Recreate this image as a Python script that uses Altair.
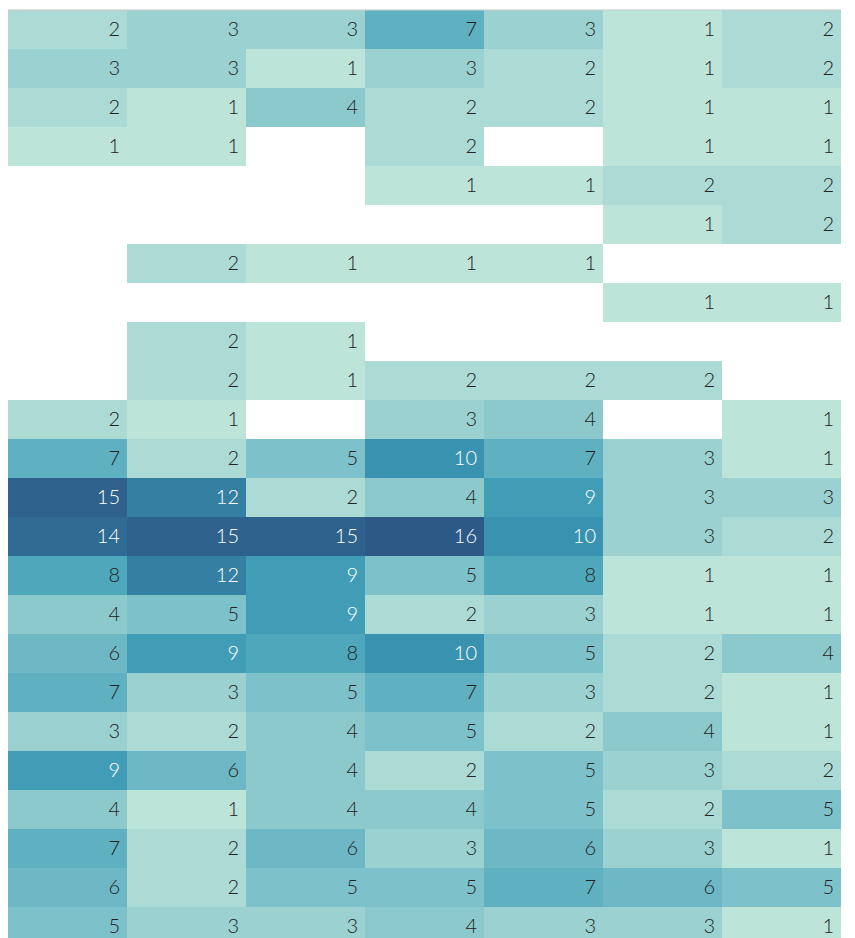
import altair as alt
import pandas as pd

columns = [0, 1, 2, 3, 4, 5, 6]
rows = list(range(24))
values = [
    [2, 3, 3, 7, 3, 1, 2],
    [3, 3, 1, 3, 2, 1, 2],
    [2, 1, 4, 2, 2, 1, 1],
    [1, 1, None, 2, None, 1, 1],
    [None, None, None, 1, 1, 2, 2],
    [None, None, None, None, None, 1, 2],
    [None, 2, 1, 1, 1, None, None],
    [None, None, None, None, None, 1, 1],
    [None, 2, 1, None, None, None, None],
    [None, 2, 1, 2, 2, 2, None],
    [2, 1, None, 3, 4, None, 1],
    [7, 2, 5, 10, 7, 3, 1],
    [15, 12, 2, 4, 9, 3, 3],
    [14, 15, 15, 16, 10, 3, 2],
    [8, 12, 9, 5, 8, 1, 1],
    [4, 5, 9, 2, 3, 1, 1],
    [6, 9, 8, 10, 5, 2, 4],
    [7, 3, 5, 7, 3, 2, 1],
    [3, 2, 4, 5, 2, 4, 1],
    [9, 6, 4, 2, 5, 3, 2],
    [4, 1, 4, 4, 5, 2, 5],
    [7, 2, 6, 3, 6, 3, 1],
    [6, 2, 5, 5, 7, 6, 5],
    [5, 3, 3, 4, 3, 3, 1],
]

recs = []
for r, rowvals in zip(rows, values):
    for c, v in zip(columns, rowvals):
        if v is not None:
            recs.append({"col": c, "row": r, "count": v})
df = pd.DataFrame(recs)

W, H = 833, 936

xscale = alt.Scale(domain=columns, paddingInner=0, paddingOuter=0)
yscale = alt.Scale(domain=rows, paddingInner=0, paddingOuter=0)

base = alt.Chart(df)

rects = base.mark_rect().encode(
    x=alt.X("col:O", axis=None, scale=xscale),
    y=alt.Y("row:O", axis=None, scale=yscale),
    color=alt.Color("count:Q", legend=None,
                    scale=alt.Scale(scheme="tealblues", domain=[1, 16])),
)

texts = base.mark_text(align="right", baseline="middle", dx=-7, font="Lato",
                       fontSize=20, fontWeight=300).encode(
    x=alt.X("col:O", axis=None, bandPosition=1, scale=xscale),
    y=alt.Y("row:O", axis=None, scale=yscale),
    text="count:Q",
    color=alt.condition("datum.count >= 9", alt.value("white"), alt.value("#222222")),
)

top_rule = alt.Chart(pd.DataFrame({"k": [0]})).mark_rule(
    color="#c8c8c8", strokeWidth=1
).encode(x=alt.value(0), x2=alt.value(W), y=alt.value(0))

chart = (rects + texts + top_rule).properties(
    width=W, height=H,
    padding={"left": 0, "top": 2, "right": 0, "bottom": -8},
    autosize=alt.AutoSizeParams(type="none"),
).configure_view(strokeWidth=0)

chart.save("out.html", embed_options={"renderer": "svg", "actions": False})
